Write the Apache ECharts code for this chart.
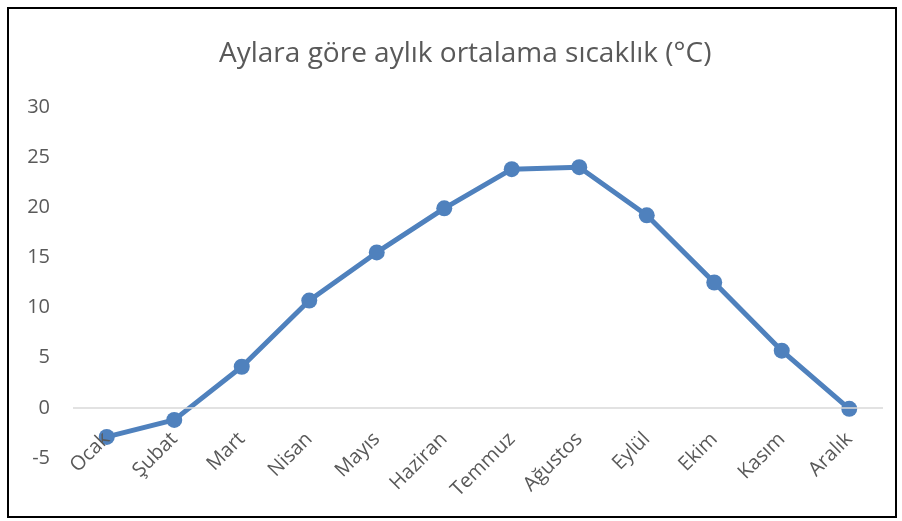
<!DOCTYPE html>
<html>
<head>
<meta charset="utf-8">
<title>Aylara göre aylık ortalama sıcaklık</title>
<script src="https://cdn.jsdelivr.net/npm/echarts@6/dist/echarts.min.js"></script>
<style>
	html,body{margin:0;padding:0;background:#fff;}
	#frame{position:absolute;left:7px;top:7px;width:886px;height:507px;border:2px solid #000;}
	#main{position:absolute;left:0;top:0;width:902px;height:521px;}
</style>
</head>
<body>
<div id="frame"></div>
<div id="main"></div>
<script>
// veriler
var aylar = ['Ocak','Şubat','Mart','Nisan','Mayıs','Haziran','Temmuz','Ağustos','Eylül','Ekim','Kasım','Aralık'];
var sicaklik = [-2.9, -1.2, 4.1, 10.7, 15.5, 19.9, 23.8, 24.0, 19.2, 12.5, 5.7, -0.1];

var myChart = echarts.init(document.getElementById('main'));
var option = {
	animation: false,
	title: {
		text: 'Aylara göre aylık ortalama sıcaklık (°C)',
		left: 214,
		top: 35,
		textStyle: {fontFamily: 'Open Sans', fontSize: 28, fontWeight: 'normal', color: '#595959'}
	},
	grid: {left: 73, right: 19, top: 107, bottom: 63},
	xAxis: {
		type: 'category',
		data: aylar,
		boundaryGap: true,
		z: 10,
		axisLine: {show: false, onZero: false},
		axisTick: {show: false},
		axisLabel: {rotate: 45, margin: -22, color: '#595959', fontFamily: 'Open Sans', fontSize: 20, interval: 0}
	},
	yAxis: {
		type: 'value',
		min: -5, max: 30, interval: 5,
		axisLine: {show: false},
		axisTick: {show: false},
		splitLine: {show: false},
		axisLabel: {margin: 23, color: '#595959', fontFamily: 'Open Sans', fontSize: 20}
	},
	series: [{
		type: 'line',
		data: sicaklik,
		symbol: 'circle',
		symbolSize: 16,
		lineStyle: {color: '#4f81bd', width: 5},
		itemStyle: {color: '#4f81bd'},
		z: 3,
		markLine: {
			silent: true,
			symbol: 'none',
			label: {show: false},
			lineStyle: {color: '#d9d9d9', type: 'solid', width: 1.5},
			data: [{yAxis: 0}]
		}
	}]
};
myChart.setOption(option);
</script>
</body>
</html>
